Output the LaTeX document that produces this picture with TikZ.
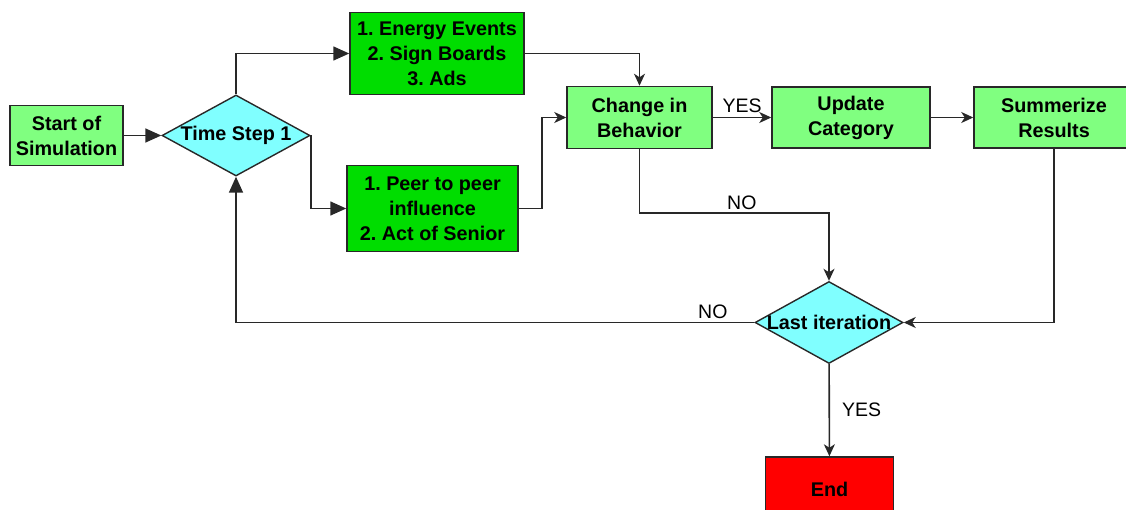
\documentclass[tikz,border=0pt]{standalone}
\usepackage{fontspec}
\setmainfont{Liberation Sans}
\usetikzlibrary{arrows.meta, shapes.geometric}
\frenchspacing

\definecolor{lightgrn}{RGB}{128,255,128}
\definecolor{darkgrn}{RGB}{0,221,0}
\definecolor{cyanbox}{RGB}{128,255,255}
\definecolor{endred}{RGB}{255,0,0}
\definecolor{linegray}{RGB}{40,40,40}

\tikzset{
    box/.style={draw=linegray, line width=1.5pt, inner sep=0pt, align=center},
    dia/.style={draw=linegray, line width=1.4pt, shape=diamond, inner sep=0pt, fill=cyanbox},
    tri/.style={-{Triangle[length=16pt, width=14pt]}, line width=1.6pt, draw=linegray},
    stl/.style={-{Stealth[length=12pt, width=11pt, inset=3.5pt]}, line width=1.6pt, draw=linegray},
    lbl/.style={font=\fontsize{19.5}{23}\selectfont}
}

\begin{document}
\begin{tikzpicture}[x=1pt, y=-1pt, font=\fontsize{19.8}{25}\selectfont\bfseries]
    \useasboundingbox (0,0) rectangle (1126,510);

    % Start and first decision
    \node[box, fill=lightgrn, minimum width=113, minimum height=60] (start) at (66.5,135.5) {Start of\\Simulation};
    \node[dia, minimum width=148, minimum height=81, label={center:Time Step 1}] (ts) at (236,135.5) {};

    % Influences
    \node[box, fill=darkgrn, minimum width=174, minimum height=82] (ev) at (437,53.5) {1. Energy Events\\2. Sign Boards\\3. Ads};
    \node[box, fill=darkgrn, minimum width=171, minimum height=86] (peer) at (432.5,208.5) {1. Peer to peer\\influence\\2. Act of Senior};

    % Behavior chain
    \node[box, fill=lightgrn, minimum width=145, minimum height=62] (chg) at (639.5,117.5) {Change in\\Behavior};
    \node[box, fill=lightgrn, minimum width=158, minimum height=61] (upd) at (851,117.5) {Update\\Category};
    \node[box, fill=lightgrn, minimum width=160, minimum height=61] (sum) at (1054,117.5) {Summerize\\Results};

    % Last decision and end
    \node[dia, minimum width=148, minimum height=82, label={center:Last iteration}] (last) at (829,322.5) {};
    \node[box, fill=endred, minimum width=128, minimum height=64] (end) at (829.5,489) {End};

    % Connectors
    \draw[tri] (start) -- (ts);
    \draw[tri] (ts.north) |- (ev.west);
    \draw[tri] (ts.east) |- (peer.west);
    \draw[stl] (ev.east) -| (chg.north);
    \draw[stl] (peer.east) -- ++(23,0) |- (chg.west);
    \draw[stl] (chg) -- node[lbl, above, pos=0.5, inner sep=4.5pt] {YES} (upd);
    \draw[stl] (upd) -- (sum);
    \draw[stl] (chg.south) -- ++(0,64) -| node[lbl, above, pos=0.27, inner sep=3pt] {NO} (last.north);
    \draw[stl] (sum.south) |- (last.east);
    \draw[tri] (last.west) -| node[lbl, above, pos=0.04, inner sep=3pt] {NO} (ts.south);
    \draw[stl] (last) -- node[lbl, right, inner sep=12pt] {YES} (end);
\end{tikzpicture}
\end{document}
